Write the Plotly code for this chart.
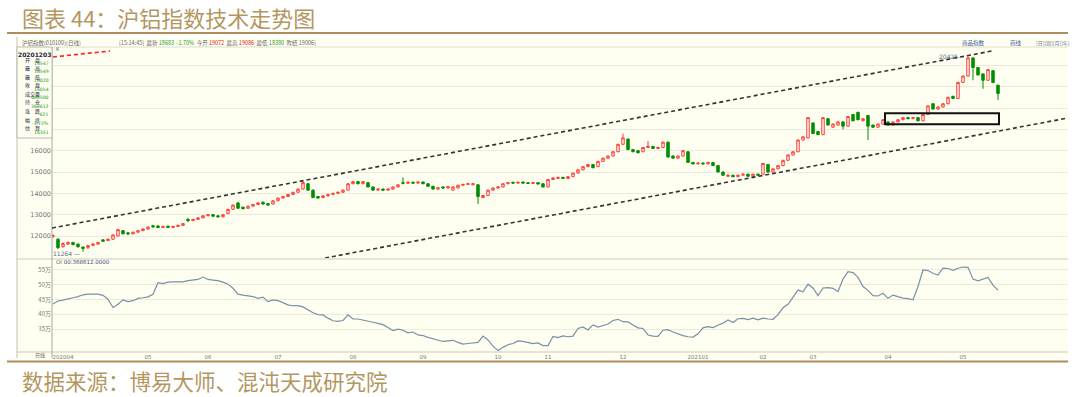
import plotly.graph_objects as go

# ---------------- data ----------------
opens = [11980,11850,11500,11620,11700,11620,11480,11450,11560,11620,
         11820,11780,11850,12000,12250,12150,12100,12180,12250,12330,
         12480,12470,12400,12460,12400,12450,12500,12780,12720,12780,
         12850,12950,13000,12950,12900,13050,13250,13550,13350,13300,
         13400,13480,13580,13520,13500,13650,13780,13850,13950,14050,
         14200,14450,14150,13850,13800,13880,13950,14000,14050,14150,
         14450,14550,14450,14500,14300,14150,14200,14150,14200,14300,
         14500,14470,14520,14480,14530,14450,14330,14200,14300,14250,
         14150,14250,14380,14420,14400,14400,13800,13900,14150,14250,
         14300,14450,14520,14480,14530,14500,14460,14500,14450,14300,
         14650,14700,14750,14700,14780,14950,15100,15250,15350,15250,
         15500,15650,15750,15950,16300,16547,16050,16000,15950,16150,
         16200,16100,16150,16400,15750,15650,15750,15950,15450,15380,
         15420,15380,15450,15300,15000,14800,14850,14780,14850,14900,
         14800,14900,14900,15350,15000,15150,15300,15550,15800,15950,
         16500,16600,17300,16900,16750,17500,17100,17200,17350,17150,
         17700,17800,17400,17650,17200,17100,17250,17350,17200,17350,
         17450,17550,17500,17550,17400,17700,18200,17950,18050,18200,
         18550,18450,19200,19500,20350,19900,19600,19300,19750,19072]
highs = [12080,11900,11700,11750,11720,11650,11520,11580,11660,11720,
         11850,11880,12080,12330,12280,12180,12200,12270,12350,12450,
         12520,12500,12480,12490,12470,12520,12600,12850,12800,12870,
         12970,13030,13020,12970,13020,13270,13480,13600,13380,13420,
         13500,13570,13620,13540,13670,13800,13870,13970,14070,14220,
         14560,14480,14180,13880,13900,13970,14020,14070,14170,14470,
         14580,14580,14570,14520,14320,14220,14220,14220,14320,14420,
         14750,14540,14550,14550,14550,14470,14350,14280,14320,14340,
         14320,14400,14440,14470,14470,14420,13920,14170,14270,14320,
         14470,14520,14540,14540,14550,14520,14520,14520,14470,14670,
         14740,14770,14770,14800,14970,15120,15270,15370,15370,15520,
         15670,15770,15970,16320,16800,16549,16080,16030,16170,16450,
         16230,16180,16420,16420,15780,15770,16020,15970,15470,15440,
         15440,15470,15470,15320,15020,14870,14870,14870,14920,14920,
         14920,14920,15420,15370,15170,15320,15570,15820,15970,16520,
         16670,17570,17320,16920,17570,17520,17270,17370,17370,17620,
         17720,17820,17520,17670,17220,17270,17470,17370,17370,17470,
         17570,17570,17570,17570,17720,18120,18220,18070,18220,18520,
         18570,19220,19520,20425,20370,19920,19620,19820,19770,19086]
lows = [11900,11400,11450,11580,11560,11450,11264,11400,11520,11600,
        11740,11760,11830,11980,12080,12060,12080,12150,12230,12300,
        12400,12380,12380,12380,12380,12430,12480,12650,12700,12760,
        12830,12930,12900,12870,12880,13030,13230,13280,13250,13280,
        13380,13460,13480,13420,13480,13630,13760,13830,13930,14030,
        14180,14120,13780,13750,13780,13860,13930,13980,14030,14130,
        14430,14420,14430,14280,14130,14130,14130,14130,14180,14280,
        14420,14450,14460,14460,14430,14310,14180,14180,14230,14230,
        14130,14230,14360,14400,14380,13500,13780,13880,14130,14230,
        14280,14430,14460,14460,14460,14440,14440,14420,14280,14280,
        14630,14680,14680,14680,14760,14930,15080,15230,15180,15230,
        15480,15630,15730,15930,16280,16020,15930,15880,15930,16130,
        16080,16080,16130,15680,15630,15630,15730,15430,15360,15360,
        15360,15360,15280,14980,14830,14780,14760,14760,14830,14780,
        14780,14830,14880,14980,14980,15130,15280,15530,15780,15930,
        16480,16580,16780,16730,16730,17180,17080,17180,17000,17130,
        17380,17430,17380,16500,17080,17080,17230,17180,17180,17330,
        17430,17480,17480,17380,17380,17680,17930,17930,18030,18180,
        18430,18430,19180,19480,19300,19530,18900,19280,19180,18380]
closes = [12020,11450,11650,11700,11600,11500,11420,11560,11620,11700,
          11760,11850,12050,12300,12100,12100,12180,12250,12330,12420,
          12430,12400,12450,12400,12450,12500,12580,12720,12780,12850,
          12950,13000,12930,12900,13000,13250,13450,13300,13280,13400,
          13480,13550,13500,13450,13650,13780,13850,13950,14050,14200,
          14500,14150,13800,13780,13880,13950,14000,14050,14150,14450,
          14550,14450,14550,14300,14150,14200,14150,14200,14300,14400,
          14470,14520,14480,14530,14450,14330,14200,14260,14250,14320,
          14300,14380,14420,14450,14450,13850,13900,14150,14250,14300,
          14450,14500,14480,14520,14480,14460,14500,14440,14300,14650,
          14720,14750,14700,14780,14950,15100,15250,15350,15200,15500,
          15650,15750,15950,16300,16600,16054,15950,15900,16150,16200,
          16100,16150,16400,15700,15650,15750,16000,15450,15380,15420,
          15380,15450,15300,15000,14850,14850,14780,14850,14900,14800,
          14900,14850,15400,15000,15150,15300,15550,15800,15950,16500,
          16650,17550,16800,16750,17550,17200,17250,17350,17150,17600,
          17400,17450,17500,17150,17100,17250,17450,17200,17350,17450,
          17550,17500,17550,17400,17700,18100,17950,18050,18200,18500,
          18450,19200,19500,20350,19900,19550,19300,19800,19200,18683]
oi_wan = [43.5,44.5,44.8,45.3,45.6,46.0,46.6,46.8,46.9,46.8,
          46.4,45.1,42.3,43.4,44.9,44.3,44.6,45.4,45.6,45.9,
          46.8,50.7,50.4,50.9,51.0,50.9,51.0,51.4,51.6,51.8,
          52.6,51.8,51.6,51.4,50.9,50.2,48.8,46.8,46.5,46.3,
          46.0,45.4,45.8,44.3,44.9,44.6,43.8,43.2,42.9,42.9,
          42.5,41.6,40.5,39.9,39.8,38.7,37.8,37.6,37.9,39.8,
          38.4,38.4,38.1,37.8,37.3,36.9,36.5,35.5,34.5,35.0,
          34.6,33.7,34.0,33.0,32.8,32.2,31.7,31.4,30.8,31.0,
          31.2,30.5,29.9,30.1,30.4,30.5,32.6,31.3,29.2,27.7,
          28.8,29.7,30.1,31.0,30.8,30.5,30.1,30.3,29.4,29.4,
          32.5,32.1,32.7,32.4,32.6,35.2,35.7,34.7,36.4,35.7,
          36.1,36.7,37.9,38.3,37.5,37.4,36.4,35.4,35.2,33.0,
          32.6,32.5,34.6,34.8,34.0,33.3,32.8,32.4,32.3,33.4,
          35.4,35.8,35.5,36.3,37.0,38.1,37.2,38.5,38.6,38.2,
          38.7,38.1,38.7,38.4,38.3,39.9,42.2,43.4,45.8,48.2,
          47.6,50.2,48.9,46.3,48.9,49.0,48.8,47.7,51.9,54.4,
          54.1,52.5,49.4,48.1,46.3,46.2,47.1,45.4,46.5,45.9,
          45.5,45.3,44.9,49.4,55.0,54.8,53.9,53.3,55.6,55.5,
          54.9,55.6,56.0,55.9,51.9,51.3,51.9,52.5,49.9,48.2]

month_tick_idx = [2, 19, 31, 45, 60, 74, 89, 99, 114, 129, 142, 152, 167, 182]
month_tick_text = ["202004", "05", "06", "07", "08", "09", "10", "11", "12",
                   "202101", "02", "03", "04", "05"]
price_ticks = [12000, 13000, 14000, 15000, 16000, 17000, 18000, 19000, 20000]
price_tick_text = ["12000", "13000", "14000", "15000", "16000", "", "", "", ""]
oi_ticks = [35, 40, 45, 50, 55]
oi_tick_text = ["35万", "40万", "45万", "50万", "55万"]

upper_trend_idx = [-0.2, 187.8]
upper_trend_price = [12375, 20673]
lower_trend_idx = [54.4, 203]
lower_trend_price = [10969, 17532]
red_line_idx = [0, 11.4]
red_line_price = [20392, 20673]
box_idx = [166.4, 189.2]
box_price = [17239, 17755]

info_date = "20201203"
info_labels = ["开　盘", "最　高", "最　低", "收　盘", "成交量", "持　仓", "涨　跌", "幅　度", "估　算"]
info_values = ["16547", "16549", "16020", "16054", "484500", "368612", "-621", "-3.72%", "16351"]

idx = list(range(len(closes)))

# ---------------- helpers (pixel -> paper) ----------------
W, H = 1080, 397
def px(x):
    return x / W
def py(y):
    return 1 - y / H

CJK = "Noto Sans CJK SC, DejaVu Sans"
GOLD = "#b4975f"
CREAM = "#fffff1"

fig = go.Figure()
fig.add_trace(go.Candlestick(
    x=idx, open=opens, high=highs, low=lows, close=closes,
    increasing=dict(line=dict(color="#ff3a3a", width=1), fillcolor=CREAM),
    decreasing=dict(line=dict(color="#008e00", width=1), fillcolor="#008e00"),
    whiskerwidth=0, hoverinfo="skip", showlegend=False,
    xaxis="x", yaxis="y"))
fig.add_trace(go.Scatter(
    x=idx, y=oi_wan, mode="lines", line=dict(color="#7b8fa5", width=1.2),
    hoverinfo="skip", showlegend=False, xaxis="x", yaxis="y2"))

shapes = []
shapes.append(dict(type="rect", xref="paper", yref="paper", x0=px(17), x1=px(1068),
                   y0=py(358), y1=py(37), fillcolor=CREAM, line=dict(width=0), layer="below"))
def hline(y, x0, x1, color, w):
    shapes.append(dict(type="line", xref="paper", yref="paper", x0=px(x0), x1=px(x1),
                       y0=py(y), y1=py(y), line=dict(color=color, width=w), layer="above"))
def vline(x, y0, y1, color, w):
    shapes.append(dict(type="line", xref="paper", yref="paper", x0=px(x), x1=px(x),
                       y0=py(y0), y1=py(y1), line=dict(color=color, width=w), layer="above"))
hline(33, 7, 1068, "#b08c58", 2.2)
hline(361.5, 7, 1068, "#b08c58", 2.2)
hline(47, 52, 1068, "#dedecf", 1)
hline(259, 17, 1068, "#c8c8bc", 1)
hline(352, 17, 1068, "#c8c8bc", 1)
vline(17, 37, 358, "#c0c0b4", 1)
vline(52, 47, 358, "#a8a8a0", 1)
shapes.append(dict(type="rect", xref="paper", yref="paper", x0=px(17), x1=px(52),
                   y0=py(138), y1=py(47), fillcolor=CREAM, line=dict(color="#b8b8ae", width=1),
                   layer="above"))
shapes.append(dict(type="line", xref="x", yref="y", x0=upper_trend_idx[0], x1=upper_trend_idx[1],
                   y0=upper_trend_price[0], y1=upper_trend_price[1],
                   line=dict(color="#333333", width=1.6, dash="4px,3px")))
shapes.append(dict(type="line", xref="x", yref="y", x0=lower_trend_idx[0], x1=lower_trend_idx[1],
                   y0=lower_trend_price[0], y1=lower_trend_price[1],
                   line=dict(color="#333333", width=1.6, dash="4px,3px")))
shapes.append(dict(type="line", xref="x", yref="y", x0=red_line_idx[0], x1=red_line_idx[1],
                   y0=red_line_price[0], y1=red_line_price[1],
                   line=dict(color="#ff2020", width=1.6, dash="4px,3px")))
shapes.append(dict(type="rect", xref="x", yref="y", x0=box_idx[0], x1=box_idx[1],
                   y0=box_price[0], y1=box_price[1],
                   line=dict(color="#111111", width=2), fillcolor="rgba(0,0,0,0)", layer="above"))

ann = []
def text(x, y, s, size, color, anchor="left", family=CJK, bold=False):
    if bold:
        s = "<b>" + s + "</b>"
    ann.append(dict(xref="paper", yref="paper", x=px(x), y=py(y), text=s, showarrow=False,
                    xanchor=anchor, yanchor="middle",
                    font=dict(size=size, color=color, family=family)))

text(20, 17, "图表 44：沪铝指数技术走势图", 22, GOLD)
text(20, 380, "数据来源：博易大师、混沌天成研究院", 21.5, GOLD)

# header row
text(20, 42.5, "沪铝指数(010100)(日线)", 5.5, "#666666")
hdr = ("[15:14:45]  最新 <span style='color:#1a9a1a'>18683  -1.70%</span>  今开 "
       "<span style='color:#e02020'>19072</span>  最高 <span style='color:#e02020'>19086</span>  "
       "最低 <span style='color:#1a9a1a'>18380</span>  昨结 19006]")
text(117, 42.5, hdr, 5.5, "#666666")
text(973, 42.5, "商品指数", 5.5, "#3a5a9a", anchor="center")
text(1016, 42.5, "画线", 5.5, "#3a5a9a", anchor="center")
text(1034, 42.5, "[日][周][月][年]", 5, "#6a7a9a")
text(54, 49, "K", 5, "#666666")

# info panel
text(34.5, 54.5, info_date, 6, "#222244", anchor="center", family="DejaVu Sans", bold=True)
for k, (lab, val) in enumerate(zip(info_labels, info_values)):
    ylab = 59.5 + k * 8.6
    text(32, ylab, lab, 5, "#1a2550", anchor="center")
    text(51, ylab + 3.8, val, 4.6, "#1a9a1a", anchor="right", family="DejaVu Sans")

text(54, 262, "OI <span style='color:#3a4a7a'>00:368612.0000</span>", 5.5, "#666666", family="DejaVu Sans")
text(40, 355, "日线", 5, "#666666", anchor="center")

ann.append(dict(xref="x", yref="y", x=183, y=20425, text="20425—", showarrow=False,
                xanchor="right", yanchor="middle", xshift=-2,
                font=dict(size=6, color="#5a6a8a", family="DejaVu Sans")))
ann.append(dict(xref="x", yref="y", x=6, y=11264, text="11264 —", showarrow=False,
                xanchor="right", yanchor="middle", xshift=-1, yshift=-2,
                font=dict(size=6, color="#5a6a8a", family="DejaVu Sans")))

fig.update_layout(
    width=W, height=H, autosize=False,
    margin=dict(l=0, r=0, t=0, b=0),
    paper_bgcolor="white", plot_bgcolor="rgba(0,0,0,0)",
    showlegend=False,
    xaxis=dict(domain=[px(52), px(1068)], range=[-0.2, 203], anchor="y2",
               tickvals=month_tick_idx, ticktext=month_tick_text,
               tickfont=dict(size=5.5, color="#777777", family="DejaVu Sans"),
               showgrid=False, zeroline=False, showline=False, ticks="",
               rangeslider=dict(visible=False), fixedrange=True),
    yaxis=dict(domain=[py(258), py(47)], range=[10969, 20860], anchor="x",
               tickvals=price_ticks, ticktext=price_tick_text,
               tickfont=dict(size=6.5, color="#777777", family="DejaVu Sans"),
               showgrid=True, gridcolor="#ebebdc", gridwidth=1,
               zeroline=False, showline=False, ticks="", fixedrange=True),
    yaxis2=dict(domain=[py(352), py(259)], range=[27.23, 58.72], anchor="x",
                tickvals=oi_ticks, ticktext=oi_tick_text,
                tickfont=dict(size=6, color="#777777", family=CJK),
                showgrid=True, gridcolor="#ebebdc", gridwidth=1,
                zeroline=False, showline=False, ticks="", fixedrange=True),
    shapes=shapes, annotations=ann,
)

fig.write_html("out.html", config={"displayModeBar": False, "staticPlot": True},
               post_script="document.body.style.margin='0px';document.body.style.overflow='hidden';")
